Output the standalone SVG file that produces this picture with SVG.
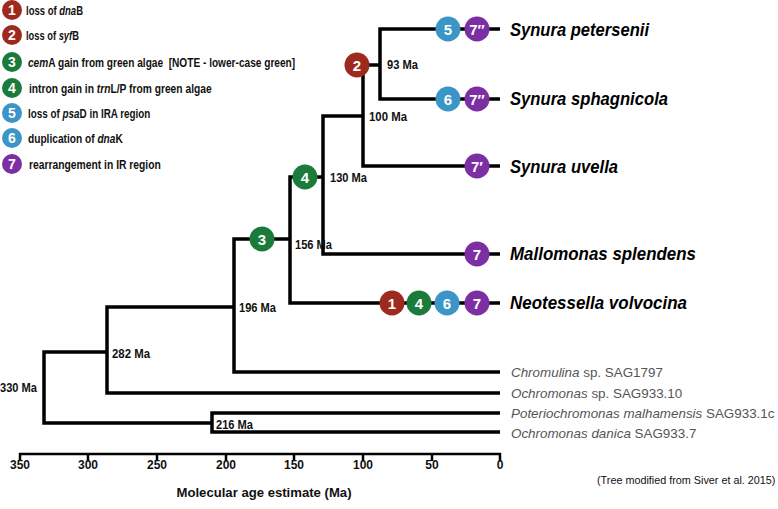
<svg xmlns="http://www.w3.org/2000/svg" width="778" height="509" viewBox="0 0 778 509">
<style>
text{font-family:"Liberation Sans",Arial,sans-serif;}
.ln{fill:none;stroke:#000;stroke-width:3.5;stroke-linejoin:miter;}
.tk{stroke:#000;stroke-width:2.5;}
.red{fill:#9e2a1f}.grn{fill:#1b7b3b}.blu{fill:#3b95c6}.pur{fill:#7b2fa3}
.dg{fill:#fff;font-weight:bold;font-size:15px;text-anchor:middle;}
.ldg{fill:#fff;font-weight:bold;font-size:14px;text-anchor:middle;}
.lg{font-size:12.5px;font-weight:bold;fill:#111;}
.ma{font-size:12.5px;font-weight:bold;fill:#111;}
.big{font-size:18.5px;font-weight:bold;font-style:italic;fill:#000;}
.gr{font-size:13.4px;fill:#555;}
.ax{font-size:12px;font-weight:bold;fill:#111;text-anchor:middle;}
.it{font-style:italic;}
</style>

<g id="legend">
<g id="leg1"><circle cx="12" cy="10" r="10" class="red"/><text x="12" y="15" class="ldg">1</text>
<text class="lg" transform="translate(26,15) scale(0.76,1)">loss of <tspan class="it">dna</tspan>B</text></g>
<g id="leg2"><circle cx="12" cy="35" r="10" class="red"/><text x="12" y="40" class="ldg">2</text>
<text class="lg" transform="translate(26,40) scale(0.748,1)">loss of <tspan class="it">syf</tspan>B</text></g>
<g id="leg3"><circle cx="12" cy="62" r="10" class="grn"/><text x="12" y="67" class="ldg">3</text>
<text class="lg" transform="translate(28,67) scale(0.81,1)"><tspan class="it">cem</tspan>A gain from green algae <tspan dx="3.5">[NOTE - lower-case green]</tspan></text></g>
<g id="leg4"><circle cx="12" cy="88" r="10" class="grn"/><text x="12" y="93" class="ldg">4</text>
<text class="lg" transform="translate(29,93) scale(0.821,1)">intron gain in <tspan class="it">trn</tspan>L/P from green algae</text></g>
<g id="leg5"><circle cx="12" cy="113" r="10" class="blu"/><text x="12" y="118" class="ldg">5</text>
<text class="lg" transform="translate(28,118) scale(0.79,1)">loss of <tspan class="it">psa</tspan>D in IRA region</text></g>
<g id="leg6"><circle cx="12" cy="138" r="10" class="blu"/><text x="12" y="143" class="ldg">6</text>
<text class="lg" transform="translate(28,143) scale(0.814,1)">duplication of <tspan class="it">dna</tspan>K</text></g>
<g id="leg7"><circle cx="12" cy="164" r="10" class="pur"/><text x="12" y="169" class="ldg">7</text>
<text class="lg" transform="translate(29,169) scale(0.826,1)">rearrangement in IR region</text></g>
</g>

<g id="connectors">
<path class="ln" d="M107,352 H44 V423 H212"/>
<path class="ln" d="M234,307 H107 V393 H500"/>
<path class="ln" d="M500,413 H212 V432 H500"/>
<path class="ln" d="M290,239 H234 V372 H500"/>
<path class="ln" d="M323,177 H290 V303 H500"/>
<path class="ln" d="M363,116 H323 V254 H500"/>
<path class="ln" d="M380,65 H357 M363,65 V166 H500"/>
<path class="ln" d="M500,29 H380 V99 H500"/>
</g>

<g id="node-ages">
<g id="n93"><text x="387" y="68.5" class="ma" textLength="31" lengthAdjust="spacingAndGlyphs">93 Ma</text></g>
<g id="n100"><text x="369" y="121" class="ma" textLength="38" lengthAdjust="spacingAndGlyphs">100 Ma</text></g>
<g id="n130"><text x="330" y="182" class="ma" textLength="37" lengthAdjust="spacingAndGlyphs">130 Ma</text></g>
<g id="n156"><text x="295" y="249" class="ma" textLength="37" lengthAdjust="spacingAndGlyphs">156 Ma</text></g>
<g id="n196"><text x="239" y="312" class="ma" textLength="37" lengthAdjust="spacingAndGlyphs">196 Ma</text></g>
<g id="n282"><text x="112" y="358" class="ma" textLength="38" lengthAdjust="spacingAndGlyphs">282 Ma</text></g>
<g id="n330"><text x="0" y="392" class="ma" textLength="37" lengthAdjust="spacingAndGlyphs">330 Ma</text></g>
<g id="n216"><text x="216" y="429" class="ma" textLength="37" lengthAdjust="spacingAndGlyphs">216 Ma</text></g>
</g>

<g id="events">
<g id="ev2"><circle cx="357" cy="65" r="12.5" class="red"/><text x="357" y="70.5" class="dg">2</text></g>
<g id="ev3"><circle cx="262" cy="239" r="12.5" class="grn"/><text x="262" y="244.5" class="dg">3</text></g>
<g id="ev4"><circle cx="305" cy="177" r="12.5" class="grn"/><text x="305" y="182.5" class="dg">4</text></g>
<g id="ev5p"><circle cx="448" cy="29" r="12.5" class="blu"/><text x="448" y="34.5" class="dg">5</text></g>
<g id="ev7p"><circle cx="477" cy="29" r="12.5" class="pur"/><text x="477" y="34.5" class="dg">7″</text></g>
<g id="ev6s"><circle cx="448" cy="99" r="12.5" class="blu"/><text x="448" y="104.5" class="dg">6</text></g>
<g id="ev7s"><circle cx="477" cy="99" r="12.5" class="pur"/><text x="477" y="104.5" class="dg">7″</text></g>
<g id="ev7u"><circle cx="477" cy="166" r="12.5" class="pur"/><text x="477" y="171.5" class="dg">7′</text></g>
<g id="ev7m"><circle cx="477" cy="254" r="12.5" class="pur"/><text x="477" y="259.5" class="dg">7</text></g>
<g id="ev1n"><circle cx="392" cy="303" r="12.5" class="red"/><text x="392" y="308.5" class="dg">1</text></g>
<g id="ev4n"><circle cx="419" cy="303" r="12.5" class="grn"/><text x="419" y="308.5" class="dg">4</text></g>
<g id="ev6n"><circle cx="447" cy="303" r="12.5" class="blu"/><text x="447" y="308.5" class="dg">6</text></g>
<g id="ev7n"><circle cx="477" cy="303" r="12.5" class="pur"/><text x="477" y="308.5" class="dg">7</text></g>
</g>

<g id="taxa">
<g id="t-petersenii"><text x="510" y="36" class="big" textLength="139" lengthAdjust="spacingAndGlyphs">Synura petersenii</text></g>
<g id="t-sphagnicola"><text x="510" y="105" class="big" textLength="158" lengthAdjust="spacingAndGlyphs">Synura sphagnicola</text></g>
<g id="t-uvella"><text x="510" y="172.5" class="big" textLength="108" lengthAdjust="spacingAndGlyphs">Synura uvella</text></g>
<g id="t-mallomonas"><text x="510" y="260" class="big" textLength="186" lengthAdjust="spacingAndGlyphs">Mallomonas splendens</text></g>
<g id="t-neotessella"><text x="510" y="309" class="big" textLength="177" lengthAdjust="spacingAndGlyphs">Neotessella volvocina</text></g>
<g id="t-chromulina"><text x="511" y="377" class="gr"><tspan class="it">Chromulina</tspan> sp. SAG1797</text></g>
<g id="t-ochro10"><text x="511" y="397.5" class="gr"><tspan class="it">Ochromonas</tspan> sp. SAG933.10</text></g>
<g id="t-poterio"><text x="511" y="418" class="gr"><tspan class="it">Poteriochromonas malhamensis</tspan> SAG933.1c</text></g>
<g id="t-danica"><text x="511" y="437.5" class="gr"><tspan class="it">Ochromonas danica</tspan> SAG933.7</text></g>
</g>

<g id="axis">
<path class="ln" style="stroke-width:2.5" d="M20,461 V454 H500 V461"/>
<path class="tk" d="M88,454 V461 M157,454 V461 M226,454 V461 M294,454 V461 M363,454 V461 M432,454 V461"/>
<text x="20" y="468.5" class="ax">350</text>
<text x="88" y="468.5" class="ax">300</text>
<text x="157" y="468.5" class="ax">250</text>
<text x="226" y="468.5" class="ax">200</text>
<text x="294" y="468.5" class="ax">150</text>
<text x="363" y="468.5" class="ax">100</text>
<text x="432" y="468.5" class="ax">50</text>
<text x="500" y="468.5" class="ax">0</text>
<text x="264" y="497" class="ax" style="font-size:13px" textLength="175" lengthAdjust="spacingAndGlyphs">Molecular age estimate (Ma)</text>
</g>

<g id="source"><text x="597" y="483.5" style="font-size:10.8px;fill:#111">(Tree modified from Siver et al. 2015)</text></g>
</svg>
